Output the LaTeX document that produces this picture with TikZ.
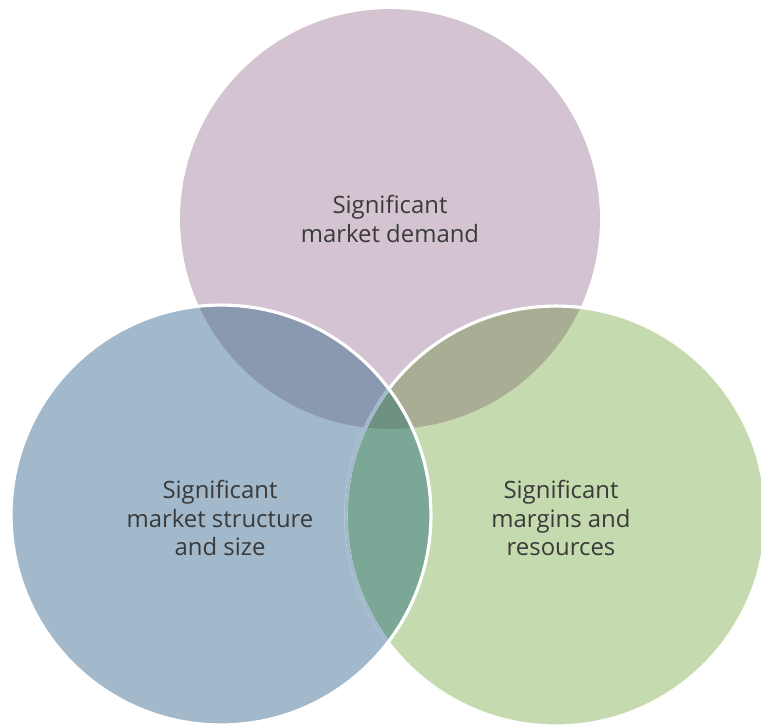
\documentclass[tikz,border=0pt]{standalone}
\usepackage{fontspec}
\setmainfont{Open Sans}
\definecolor{demandcol}{HTML}{D4C4D1}
\definecolor{sizecol}{HTML}{A1B9CB}
\definecolor{margincol}{HTML}{C5DAAF}
\definecolor{dscol}{HTML}{8A98B0}
\definecolor{dmcol}{HTML}{A9AD93}
\definecolor{smcol}{HTML}{7BA896}
\definecolor{allcol}{HTML}{6F9182}
\definecolor{textcol}{HTML}{3A3A3A}
\tikzset{
	lbl/.style={align=center,text=textcol,font=\fontsize{13.6}{16.2}\selectfont},
	rim/.style={draw=white,line width=1.8pt}
}
\begin{document}
\begin{tikzpicture}[x=0.02cm,y=-0.02cm]
	\useasboundingbox (0,0) rectangle (761,725);
	\clip (0,0) rectangle (761,725);
	\def\vrad{4.2cm}
	\coordinate (demand) at (390,219);
	\coordinate (size) at (221,515);
	\coordinate (margin) at (556,516);
	\fill[demandcol] (demand) circle(\vrad);
	\fill[margincol] (margin) circle(\vrad);
	\fill[sizecol] (size) circle(\vrad);
	\begin{scope}
		\clip (demand) circle(\vrad);
		\fill[dscol] (size) circle(\vrad);
		\fill[dmcol] (margin) circle(\vrad);
	\end{scope}
	\begin{scope}
		\clip (size) circle(\vrad);
		\fill[smcol] (margin) circle(\vrad);
		\clip (demand) circle(\vrad);
		\fill[allcol] (margin) circle(\vrad);
	\end{scope}
	\draw[rim] (margin) circle(\vrad);
	\begin{scope}
		\clip (size) circle(\vrad);
		\draw[draw=sizecol,line width=1.8pt] (margin) circle(\vrad);
	\end{scope}
	\draw[rim] (size) circle(\vrad);
	\node[lbl] (demandlbl) at (390,219) {Significant\\market demand};
	\node[lbl] (sizelbl) at (220,518) {Significant\\market structure\\and size};
	\node[lbl] (marginlbl) at (561,518) {Significant\\margins and\\resources};
\end{tikzpicture}
\end{document}
